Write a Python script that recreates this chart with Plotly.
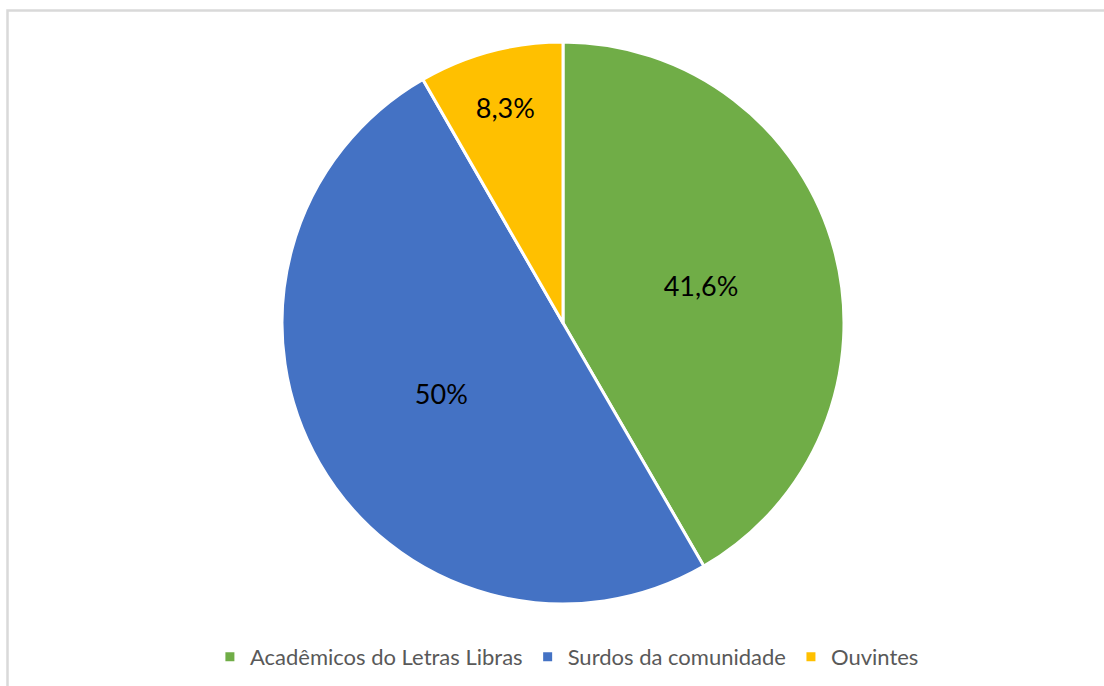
import plotly.graph_objects as go

categories = ["Acadêmicos do Letras Libras", "Surdos da comunidade", "Ouvintes"]
values = [41.6, 50, 8.3]
labels_text = ["41,6%", "50%", "8,3%"]
colors = ["#70AD47", "#4472C4", "#FFC000"]

W, H = 1104, 686
cx, cy, r = 563, 323, 281

fig = go.Figure(go.Pie(
    labels=categories,
    values=values,
    text=labels_text,
    texttemplate="%{text}",
    textposition="inside",
    insidetextorientation="horizontal",
    sort=False,
    direction="clockwise",
    rotation=0,
    marker=dict(colors=colors, line=dict(color="white", width=3)),
    textfont=dict(family="Lato, Open Sans, sans-serif", size=27, color="#000000"),
    domain=dict(x=[(cx - r) / W, (cx + r) / W], y=[1 - (cy + r) / H, 1 - (cy - r) / H]),
    hoverinfo="label+percent",
))

fig.update_layout(
    width=W, height=H,
    margin=dict(l=0, r=0, t=0, b=0),
    paper_bgcolor="white",
    showlegend=True,
    legend=dict(
        orientation="h", x=0.5135, xanchor="center", y=1 - 657 / H, yanchor="middle",
        font=dict(family="Lato, Open Sans, sans-serif", size=22, color="#595959"),
        itemwidth=30, tracegroupgap=0,
    ),
    shapes=[dict(
        type="rect", xref="paper", yref="paper",
        x0=7.5 / W, x1=1.01, y0=-0.01, y1=1 - 10.5 / H,
        line=dict(color="#D9D9D9", width=2.5), fillcolor="rgba(0,0,0,0)", layer="below",
    )],
)

fig.write_html(
    "out.html",
    config={"displayModeBar": False},
    post_script="document.body.style.margin='0';document.body.style.overflow='hidden';",
)
